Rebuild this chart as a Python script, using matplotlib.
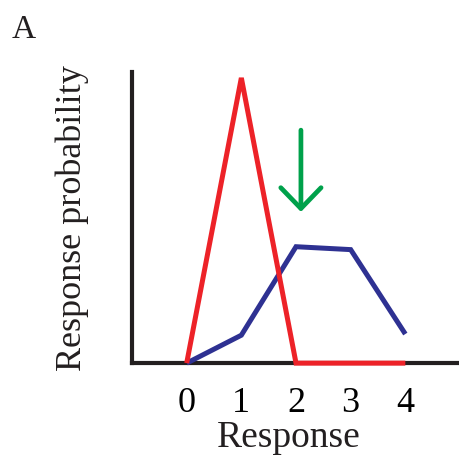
import numpy as np
import matplotlib.pyplot as plt

# values
responses = [0, 1, 2, 3, 4]
red_prob = [0.0, 0.98, 0.0, 0.0, 0.0]
blue_prob = [0.0, 0.096, 0.40, 0.39, 0.10]
arrow_x = 2.09
arrow_top = 0.81
arrow_tip = 0.51

plt.rcParams['font.family'] = ['Liberation Serif', 'DejaVu Serif']

fig = plt.figure(figsize=(4.6, 4.62), dpi=100)
ax = fig.add_axes([0.287, 0.214, 0.713, 0.630])

ax.plot(responses, blue_prob, color='#2E3192', lw=3.6, solid_joinstyle='miter',
        solid_capstyle='butt', clip_on=False, zorder=3)
ax.plot(responses, red_prob, color='#ED2228', lw=3.6, solid_joinstyle='miter',
        solid_capstyle='butt', clip_on=False, zorder=4)

# green arrow pointing down at the blue peak
ax.annotate('', xy=(arrow_x, arrow_tip), xytext=(arrow_x, arrow_top),
            arrowprops=dict(arrowstyle='->,head_length=1.5,head_width=1.45',
                            mutation_scale=10, color='#00A14B', lw=3.4))

ax.set_xlim(-1, 5)
ax.set_ylim(0, 1)
ax.set_xticks(responses)
ax.set_yticks([])
ax.tick_params(axis='x', length=0, labelsize=26, pad=17)
for side in ['top', 'right']:
    ax.spines[side].set_visible(False)
for side in ['left', 'bottom']:
    ax.spines[side].set_linewidth(3)
    ax.spines[side].set_color('#231F20')

ax.set_xlabel('Response', fontsize=27, color='#231F20')
ax.xaxis.set_label_coords(0.478, -0.197)
ax.set_ylabel('Response probability', fontsize=26, labelpad=31, color='#231F20')

fig.text(0.025, 0.968, 'A', fontsize=24, va='top', ha='left', color='#231F20')

fig.savefig('out.png', dpi=100)
